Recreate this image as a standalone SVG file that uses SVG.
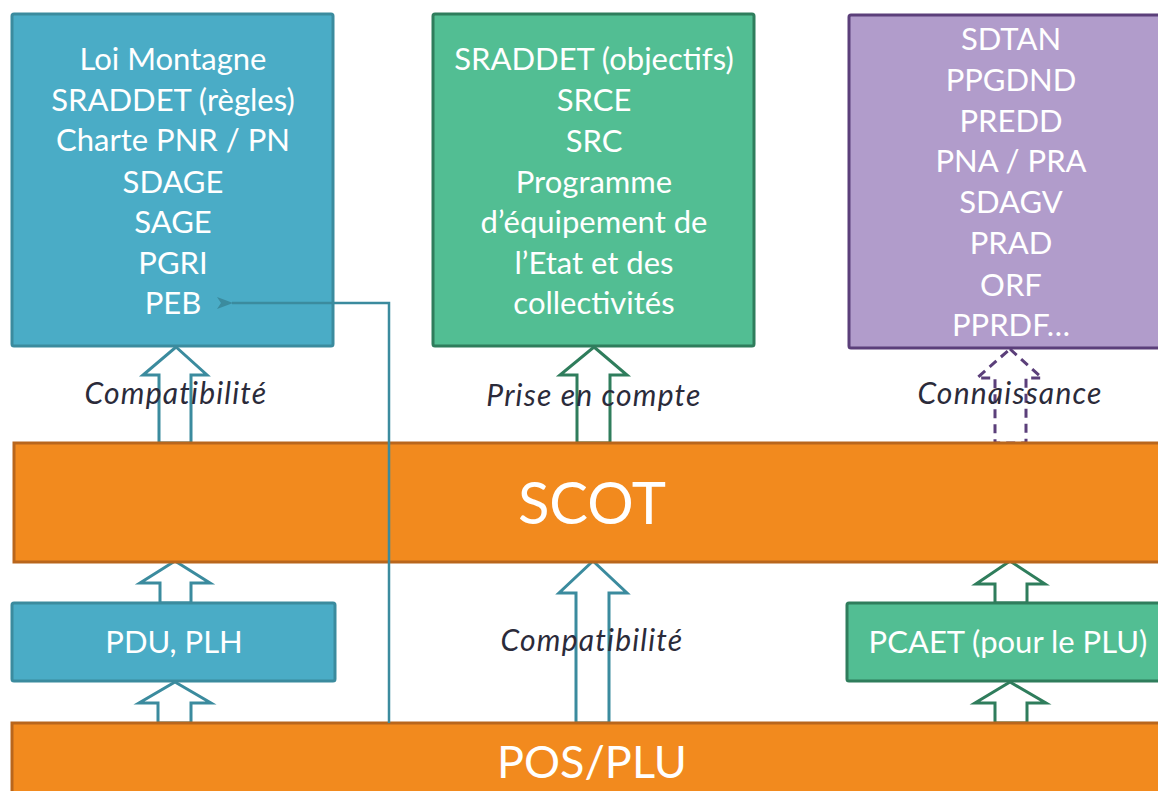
<svg xmlns="http://www.w3.org/2000/svg" width="1158" height="791" viewBox="0 0 1158 791">
<style>
.box{stroke-width:3}
.blue{fill:#4aacc6;stroke:#3b8b9e}
.green{fill:#52be93;stroke:#2f7d5c}
.purple{fill:#b19ccb;stroke:#5b3f7a}
.orange{fill:#f28a1e;stroke:#b9661c}
.t{font-family:Lato,"Open Sans","Liberation Sans",sans-serif;fill:#ffffff;text-anchor:middle;font-size:31px}
.big{font-size:58px}
.mid{font-size:45px}
.lab{font-family:Lato,"Open Sans","Liberation Sans",sans-serif;font-style:italic;fill:#2b2b3a;text-anchor:middle;font-size:30px;letter-spacing:1.2px}
.arr{fill:#ffffff;stroke-width:3;stroke-linejoin:miter}
.ab{stroke:#3b8b9e}
.ag{stroke:#2f7d5c}
.ap{stroke:#5b3f7a;stroke-dasharray:9 6}
</style>
<defs>
<marker id="ah" viewBox="0 0 16 12" refX="1" refY="6" markerWidth="16" markerHeight="12" markerUnits="userSpaceOnUse" orient="auto-start-reverse">
<path d="M0,6 L16,0 L12,6 L16,12 Z" fill="#3b8b9e"/>
</marker>
</defs>
<rect width="1158" height="791" fill="#ffffff"/>

<g id="connectors">
<path class="arr ab" d="M176,347 L207,375 L191,375 L191,443 L159,443 L159,375 L143,375 Z"/>
<path class="arr ag" d="M594,347 L627,375 L610,375 L610,443 L577,443 L577,375 L560,375 Z"/>
<path class="arr ap" d="M1010,349 L1042,378 L1026,378 L1026,443 L995,443 L995,378 L977,378 Z"/>
<path class="arr ab" d="M175,561 L210,583 L191,583 L191,603 L160,603 L160,583 L140,583 Z"/>
<path class="arr ab" d="M175,682 L211,703 L191,703 L191,723 L158,723 L158,703 L139,703 Z"/>
<path class="arr ab" d="M593,561 L627,593 L609,593 L609,723 L576,723 L576,593 L559,593 Z"/>
<path class="arr ag" d="M1010,561 L1045,584 L1027,584 L1027,603 L995,603 L995,584 L976,584 Z"/>
<path class="arr ag" d="M1010,682 L1046,703 L1027,703 L1027,723 L995,723 L995,703 L975,703 Z"/>
</g>

<g id="node-top-blue">
<rect class="box blue" x="12" y="14" width="321" height="332" rx="2"/>
<text class="t" x="173" y="70">Loi Montagne</text>
<text class="t" x="173" y="111">SRADDET (règles)</text>
<text class="t" x="173" y="151">Charte PNR / PN</text>
<text class="t" x="173" y="193">SDAGE</text>
<text class="t" x="173" y="233">SAGE</text>
<text class="t" x="173" y="274">PGRI</text>
<text class="t" x="173" y="314">PEB</text>
</g>

<g id="node-top-green">
<rect class="box green" x="433" y="14" width="321" height="332" rx="2"/>
<text class="t" x="594" y="70">SRADDET (objectifs)</text>
<text class="t" x="594" y="111">SRCE</text>
<text class="t" x="594" y="152">SRC</text>
<text class="t" x="594" y="193">Programme</text>
<text class="t" x="594" y="233">d’équipement de</text>
<text class="t" x="594" y="274">l’Etat et des</text>
<text class="t" x="594" y="314">collectivités</text>
</g>

<g id="node-top-purple">
<rect class="box purple" x="849" y="15" width="320" height="333" rx="2"/>
<text class="t" x="1011" y="50">SDTAN</text>
<text class="t" x="1011" y="91">PPGDND</text>
<text class="t" x="1011" y="132">PREDD</text>
<text class="t" x="1011" y="172">PNA / PRA</text>
<text class="t" x="1011" y="213">SDAGV</text>
<text class="t" x="1011" y="254">PRAD</text>
<text class="t" x="1011" y="296">ORF</text>
<text class="t" x="1011" y="336">PPRDF…</text>
</g>

<g id="node-scot">
<rect class="box orange" x="14" y="443" width="1160" height="119"/>
<text class="t big" x="592" y="524">SCOT</text>
</g>

<g id="node-pdu">
<rect class="box blue" x="12" y="603" width="323" height="78" rx="2"/>
<text class="t" x="174" y="653">PDU, PLH</text>
</g>

<g id="node-pcaet">
<rect class="box green" x="847" y="603" width="320" height="78" rx="2"/>
<text class="t" x="1008" y="653">PCAET (pour le PLU)</text>
</g>

<g id="node-pos">
<rect class="box orange" x="12" y="723" width="1160" height="100"/>
<text class="t mid" x="592" y="778">POS/PLU</text>
</g>

<g id="connector-peb">
<path d="M389,723 L389,303 L232,303" fill="none" stroke="#3b8b9e" stroke-width="2.5" marker-end="url(#ah)"/>
</g>

<g id="labels">
<text class="lab" x="176" y="404">Compatibilité</text>
<text class="lab" x="594" y="406">Prise en compte</text>
<text class="lab" x="1010" y="404">Connaissance</text>
<text class="lab" x="592" y="651">Compatibilité</text>
</g>
</svg>
